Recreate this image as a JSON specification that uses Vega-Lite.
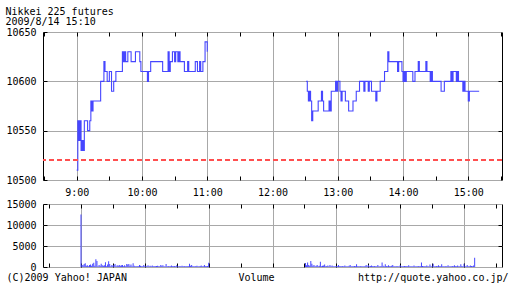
{
  "$schema": "https://vega.github.io/schema/vega-lite/v6.json",
  "autosize": {"type": "pad"},
  "padding": {"left": 5, "top": 6, "right": 0, "bottom": 0},
  "background": "white",
  "title": {"text": ["Nikkei 225 futures", "2009/8/14 15:10"], "anchor": "start", "frame": "bounds", "font": "DejaVu Sans Mono", "fontSize": 10, "fontWeight": "normal", "color": "#000", "lineHeight": 10, "offset": 0},
  "config": {
    "font": "DejaVu Sans Mono",
    "view": {"stroke": "#000", "strokeWidth": 1},
    "axis": {"labelFont": "DejaVu Sans Mono", "labelFontSize": 10, "labelColor": "#000", "domain": false, "tickColor": "#000", "tickSize": -4, "gridColor": "#a8a8a8", "gridOpacity": 1, "titleFont": "DejaVu Sans Mono", "titleFontSize": 10, "titleFontWeight": "normal", "titleColor": "#000"}
  },
  "datasets": {
    "price": [
      {"t":"2009-08-14T09:00","p":10510,"s":"am"},{"t":"2009-08-14T09:01","p":10560,"s":"am"},{"t":"2009-08-14T09:02","p":10540,"s":"am"},{"t":"2009-08-14T09:03","p":10560,"s":"am"},{"t":"2009-08-14T09:04","p":10530,"s":"am"},{"t":"2009-08-14T09:05","p":10540,"s":"am"},{"t":"2009-08-14T09:06","p":10530,"s":"am"},{"t":"2009-08-14T09:07","p":10560,"s":"am"},{"t":"2009-08-14T09:10","p":10550,"s":"am"},{"t":"2009-08-14T09:12","p":10560,"s":"am"},{"t":"2009-08-14T09:13","p":10580,"s":"am"},{"t":"2009-08-14T09:14","p":10570,"s":"am"},{"t":"2009-08-14T09:15","p":10580,"s":"am"},{"t":"2009-08-14T09:22","p":10600,"s":"am"},{"t":"2009-08-14T09:25","p":10620,"s":"am"},{"t":"2009-08-14T09:26","p":10610,"s":"am"},{"t":"2009-08-14T09:28","p":10600,"s":"am"},{"t":"2009-08-14T09:30","p":10610,"s":"am"},{"t":"2009-08-14T09:32","p":10590,"s":"am"},{"t":"2009-08-14T09:34","p":10600,"s":"am"},{"t":"2009-08-14T09:36","p":10610,"s":"am"},{"t":"2009-08-14T09:42","p":10630,"s":"am"},{"t":"2009-08-14T09:43","p":10620,"s":"am"},{"t":"2009-08-14T09:44","p":10630,"s":"am"},{"t":"2009-08-14T09:45","p":10620,"s":"am"},{"t":"2009-08-14T09:47","p":10630,"s":"am"},{"t":"2009-08-14T09:50","p":10620,"s":"am"},{"t":"2009-08-14T09:54","p":10630,"s":"am"},{"t":"2009-08-14T09:58","p":10620,"s":"am"},{"t":"2009-08-14T09:59","p":10610,"s":"am"},{"t":"2009-08-14T10:05","p":10600,"s":"am"},{"t":"2009-08-14T10:06","p":10610,"s":"am"},{"t":"2009-08-14T10:08","p":10620,"s":"am"},{"t":"2009-08-14T10:19","p":10610,"s":"am"},{"t":"2009-08-14T10:24","p":10630,"s":"am"},{"t":"2009-08-14T10:25","p":10610,"s":"am"},{"t":"2009-08-14T10:26","p":10620,"s":"am"},{"t":"2009-08-14T10:28","p":10630,"s":"am"},{"t":"2009-08-14T10:30","p":10620,"s":"am"},{"t":"2009-08-14T10:31","p":10630,"s":"am"},{"t":"2009-08-14T10:33","p":10620,"s":"am"},{"t":"2009-08-14T10:34","p":10630,"s":"am"},{"t":"2009-08-14T10:35","p":10620,"s":"am"},{"t":"2009-08-14T10:39","p":10610,"s":"am"},{"t":"2009-08-14T10:42","p":10620,"s":"am"},{"t":"2009-08-14T10:43","p":10610,"s":"am"},{"t":"2009-08-14T10:49","p":10620,"s":"am"},{"t":"2009-08-14T10:51","p":10610,"s":"am"},{"t":"2009-08-14T10:53","p":10620,"s":"am"},{"t":"2009-08-14T10:54","p":10610,"s":"am"},{"t":"2009-08-14T10:56","p":10620,"s":"am"},{"t":"2009-08-14T10:58","p":10640,"s":"am"},{"t":"2009-08-14T11:00","p":10630,"s":"am"},
      {"t":"2009-08-14T12:31","p":10600,"s":"pm"},{"t":"2009-08-14T12:32","p":10590,"s":"pm"},{"t":"2009-08-14T12:33","p":10580,"s":"pm"},{"t":"2009-08-14T12:34","p":10590,"s":"pm"},{"t":"2009-08-14T12:35","p":10580,"s":"pm"},{"t":"2009-08-14T12:36","p":10560,"s":"pm"},{"t":"2009-08-14T12:37","p":10570,"s":"pm"},{"t":"2009-08-14T12:42","p":10580,"s":"pm"},{"t":"2009-08-14T12:45","p":10590,"s":"pm"},{"t":"2009-08-14T12:46","p":10580,"s":"pm"},{"t":"2009-08-14T12:47","p":10570,"s":"pm"},{"t":"2009-08-14T12:52","p":10580,"s":"pm"},{"t":"2009-08-14T12:53","p":10570,"s":"pm"},{"t":"2009-08-14T12:54","p":10590,"s":"pm"},{"t":"2009-08-14T12:58","p":10600,"s":"pm"},{"t":"2009-08-14T12:59","p":10590,"s":"pm"},{"t":"2009-08-14T13:00","p":10600,"s":"pm"},{"t":"2009-08-14T13:02","p":10590,"s":"pm"},{"t":"2009-08-14T13:03","p":10580,"s":"pm"},{"t":"2009-08-14T13:04","p":10590,"s":"pm"},{"t":"2009-08-14T13:07","p":10580,"s":"pm"},{"t":"2009-08-14T13:10","p":10570,"s":"pm"},{"t":"2009-08-14T13:14","p":10580,"s":"pm"},{"t":"2009-08-14T13:17","p":10590,"s":"pm"},{"t":"2009-08-14T13:20","p":10600,"s":"pm"},{"t":"2009-08-14T13:24","p":10590,"s":"pm"},{"t":"2009-08-14T13:25","p":10600,"s":"pm"},{"t":"2009-08-14T13:28","p":10590,"s":"pm"},{"t":"2009-08-14T13:29","p":10600,"s":"pm"},{"t":"2009-08-14T13:31","p":10590,"s":"pm"},{"t":"2009-08-14T13:35","p":10580,"s":"pm"},{"t":"2009-08-14T13:36","p":10590,"s":"pm"},{"t":"2009-08-14T13:39","p":10600,"s":"pm"},{"t":"2009-08-14T13:43","p":10610,"s":"pm"},{"t":"2009-08-14T13:46","p":10630,"s":"pm"},{"t":"2009-08-14T13:47","p":10620,"s":"pm"},{"t":"2009-08-14T13:55","p":10610,"s":"pm"},{"t":"2009-08-14T13:56","p":10620,"s":"pm"},{"t":"2009-08-14T13:59","p":10610,"s":"pm"},{"t":"2009-08-14T14:00","p":10600,"s":"pm"},{"t":"2009-08-14T14:01","p":10610,"s":"pm"},{"t":"2009-08-14T14:02","p":10600,"s":"pm"},{"t":"2009-08-14T14:03","p":10610,"s":"pm"},{"t":"2009-08-14T14:09","p":10600,"s":"pm"},{"t":"2009-08-14T14:11","p":10610,"s":"pm"},{"t":"2009-08-14T14:14","p":10620,"s":"pm"},{"t":"2009-08-14T14:15","p":10610,"s":"pm"},{"t":"2009-08-14T14:21","p":10620,"s":"pm"},{"t":"2009-08-14T14:22","p":10610,"s":"pm"},{"t":"2009-08-14T14:25","p":10600,"s":"pm"},{"t":"2009-08-14T14:26","p":10610,"s":"pm"},{"t":"2009-08-14T14:27","p":10600,"s":"pm"},{"t":"2009-08-14T14:35","p":10590,"s":"pm"},{"t":"2009-08-14T14:38","p":10600,"s":"pm"},{"t":"2009-08-14T14:44","p":10610,"s":"pm"},{"t":"2009-08-14T14:45","p":10600,"s":"pm"},{"t":"2009-08-14T14:46","p":10610,"s":"pm"},{"t":"2009-08-14T14:49","p":10600,"s":"pm"},{"t":"2009-08-14T14:50","p":10610,"s":"pm"},{"t":"2009-08-14T14:51","p":10600,"s":"pm"},{"t":"2009-08-14T14:55","p":10590,"s":"pm"},{"t":"2009-08-14T14:56","p":10600,"s":"pm"},{"t":"2009-08-14T14:57","p":10590,"s":"pm"},{"t":"2009-08-14T15:00","p":10580,"s":"pm"},{"t":"2009-08-14T15:01","p":10590,"s":"pm"},{"t":"2009-08-14T15:10","p":10590,"s":"pm"}
    ],
    "vol": [
      {"t":"2009-08-14T09:00","v":12500},{"t":"2009-08-14T09:01","v":500},{"t":"2009-08-14T09:02","v":400},{"t":"2009-08-14T09:03","v":700},{"t":"2009-08-14T09:04","v":900},{"t":"2009-08-14T09:05","v":300},{"t":"2009-08-14T09:06","v":400},{"t":"2009-08-14T09:07","v":200},{"t":"2009-08-14T09:08","v":500},{"t":"2009-08-14T09:09","v":600},{"t":"2009-08-14T09:10","v":300},{"t":"2009-08-14T09:11","v":800},{"t":"2009-08-14T09:12","v":1000},{"t":"2009-08-14T09:13","v":300},{"t":"2009-08-14T09:14","v":1850},{"t":"2009-08-14T09:15","v":1450},{"t":"2009-08-14T09:16","v":200},{"t":"2009-08-14T09:17","v":500},{"t":"2009-08-14T09:18","v":300},{"t":"2009-08-14T09:19","v":800},{"t":"2009-08-14T09:20","v":400},{"t":"2009-08-14T09:21","v":300},{"t":"2009-08-14T09:22","v":400},{"t":"2009-08-14T09:23","v":1150},{"t":"2009-08-14T09:24","v":200},{"t":"2009-08-14T09:25","v":600},{"t":"2009-08-14T09:26","v":1350},{"t":"2009-08-14T09:27","v":700},{"t":"2009-08-14T09:28","v":200},{"t":"2009-08-14T09:29","v":500},{"t":"2009-08-14T09:30","v":300},{"t":"2009-08-14T09:31","v":450},{"t":"2009-08-14T09:32","v":700},{"t":"2009-08-14T09:33","v":200},{"t":"2009-08-14T09:34","v":400},{"t":"2009-08-14T09:35","v":300},{"t":"2009-08-14T09:36","v":500},{"t":"2009-08-14T09:37","v":300},{"t":"2009-08-14T09:38","v":400},{"t":"2009-08-14T09:39","v":500},{"t":"2009-08-14T09:40","v":200},{"t":"2009-08-14T09:41","v":400},{"t":"2009-08-14T09:42","v":200},{"t":"2009-08-14T09:43","v":700},{"t":"2009-08-14T09:44","v":600},{"t":"2009-08-14T09:45","v":700},{"t":"2009-08-14T09:46","v":300},{"t":"2009-08-14T09:47","v":600},{"t":"2009-08-14T09:48","v":200},{"t":"2009-08-14T09:49","v":900},{"t":"2009-08-14T09:50","v":300},{"t":"2009-08-14T09:51","v":200},{"t":"2009-08-14T09:52","v":150},{"t":"2009-08-14T09:53","v":150},{"t":"2009-08-14T09:54","v":200},{"t":"2009-08-14T09:55","v":500},{"t":"2009-08-14T09:56","v":300},{"t":"2009-08-14T09:57","v":150},{"t":"2009-08-14T09:58","v":200},{"t":"2009-08-14T09:59","v":450},
      {"t":"2009-08-14T10:00","v":150},{"t":"2009-08-14T10:01","v":300},{"t":"2009-08-14T10:02","v":200},{"t":"2009-08-14T10:03","v":400},{"t":"2009-08-14T10:04","v":150},{"t":"2009-08-14T10:05","v":300},{"t":"2009-08-14T10:06","v":150},{"t":"2009-08-14T10:07","v":350},{"t":"2009-08-14T10:08","v":150},{"t":"2009-08-14T10:09","v":200},{"t":"2009-08-14T10:10","v":150},{"t":"2009-08-14T10:11","v":250},{"t":"2009-08-14T10:12","v":300},{"t":"2009-08-14T10:13","v":150},{"t":"2009-08-14T10:14","v":200},{"t":"2009-08-14T10:15","v":450},{"t":"2009-08-14T10:16","v":300},{"t":"2009-08-14T10:17","v":400},{"t":"2009-08-14T10:18","v":150},{"t":"2009-08-14T10:19","v":200},{"t":"2009-08-14T10:20","v":700},{"t":"2009-08-14T10:21","v":200},{"t":"2009-08-14T10:22","v":250},{"t":"2009-08-14T10:23","v":150},{"t":"2009-08-14T10:24","v":200},{"t":"2009-08-14T10:25","v":350},{"t":"2009-08-14T10:26","v":150},{"t":"2009-08-14T10:27","v":200},{"t":"2009-08-14T10:28","v":250},{"t":"2009-08-14T10:29","v":150},{"t":"2009-08-14T10:30","v":400},{"t":"2009-08-14T10:31","v":150},{"t":"2009-08-14T10:32","v":200},{"t":"2009-08-14T10:33","v":250},{"t":"2009-08-14T10:34","v":150},{"t":"2009-08-14T10:35","v":300},{"t":"2009-08-14T10:36","v":150},{"t":"2009-08-14T10:37","v":250},{"t":"2009-08-14T10:38","v":150},{"t":"2009-08-14T10:39","v":200},{"t":"2009-08-14T10:40","v":150},{"t":"2009-08-14T10:41","v":200},{"t":"2009-08-14T10:42","v":800},{"t":"2009-08-14T10:43","v":300},{"t":"2009-08-14T10:44","v":500},{"t":"2009-08-14T10:45","v":150},{"t":"2009-08-14T10:46","v":200},{"t":"2009-08-14T10:47","v":150},{"t":"2009-08-14T10:48","v":250},{"t":"2009-08-14T10:49","v":300},{"t":"2009-08-14T10:50","v":150},{"t":"2009-08-14T10:51","v":200},{"t":"2009-08-14T10:52","v":250},{"t":"2009-08-14T10:53","v":350},{"t":"2009-08-14T10:54","v":150},{"t":"2009-08-14T10:55","v":200},{"t":"2009-08-14T10:56","v":500},{"t":"2009-08-14T10:57","v":150},{"t":"2009-08-14T10:58","v":200},{"t":"2009-08-14T10:59","v":250},{"t":"2009-08-14T11:00","v":1000},
      {"t":"2009-08-14T12:31","v":950},{"t":"2009-08-14T12:32","v":400},{"t":"2009-08-14T12:33","v":1100},{"t":"2009-08-14T12:34","v":500},{"t":"2009-08-14T12:35","v":300},{"t":"2009-08-14T12:36","v":1430},{"t":"2009-08-14T12:37","v":800},{"t":"2009-08-14T12:38","v":300},{"t":"2009-08-14T12:39","v":480},{"t":"2009-08-14T12:40","v":200},{"t":"2009-08-14T12:41","v":300},{"t":"2009-08-14T12:42","v":480},{"t":"2009-08-14T12:43","v":200},{"t":"2009-08-14T12:44","v":300},{"t":"2009-08-14T12:45","v":1270},{"t":"2009-08-14T12:46","v":200},{"t":"2009-08-14T12:47","v":300},{"t":"2009-08-14T12:48","v":350},{"t":"2009-08-14T12:49","v":600},{"t":"2009-08-14T12:50","v":200},{"t":"2009-08-14T12:51","v":250},{"t":"2009-08-14T12:52","v":350},{"t":"2009-08-14T12:53","v":200},{"t":"2009-08-14T12:54","v":450},{"t":"2009-08-14T12:55","v":200},{"t":"2009-08-14T12:56","v":350},{"t":"2009-08-14T12:57","v":150},{"t":"2009-08-14T12:58","v":200},{"t":"2009-08-14T12:59","v":150},
      {"t":"2009-08-14T13:00","v":250},{"t":"2009-08-14T13:01","v":150},{"t":"2009-08-14T13:02","v":450},{"t":"2009-08-14T13:03","v":150},{"t":"2009-08-14T13:04","v":200},{"t":"2009-08-14T13:05","v":150},{"t":"2009-08-14T13:06","v":250},{"t":"2009-08-14T13:07","v":150},{"t":"2009-08-14T13:08","v":350},{"t":"2009-08-14T13:09","v":200},{"t":"2009-08-14T13:10","v":150},{"t":"2009-08-14T13:11","v":200},{"t":"2009-08-14T13:12","v":300},{"t":"2009-08-14T13:13","v":450},{"t":"2009-08-14T13:14","v":150},{"t":"2009-08-14T13:15","v":200},{"t":"2009-08-14T13:16","v":150},{"t":"2009-08-14T13:17","v":250},{"t":"2009-08-14T13:18","v":200},{"t":"2009-08-14T13:19","v":650},{"t":"2009-08-14T13:20","v":150},{"t":"2009-08-14T13:21","v":200},{"t":"2009-08-14T13:22","v":150},{"t":"2009-08-14T13:23","v":250},{"t":"2009-08-14T13:24","v":150},{"t":"2009-08-14T13:25","v":200},{"t":"2009-08-14T13:26","v":150},{"t":"2009-08-14T13:27","v":250},{"t":"2009-08-14T13:28","v":450},{"t":"2009-08-14T13:29","v":200},{"t":"2009-08-14T13:30","v":450},{"t":"2009-08-14T13:31","v":150},{"t":"2009-08-14T13:32","v":250},{"t":"2009-08-14T13:33","v":350},{"t":"2009-08-14T13:34","v":200},{"t":"2009-08-14T13:35","v":150},{"t":"2009-08-14T13:36","v":250},{"t":"2009-08-14T13:37","v":150},{"t":"2009-08-14T13:38","v":200},{"t":"2009-08-14T13:39","v":450},{"t":"2009-08-14T13:40","v":150},{"t":"2009-08-14T13:41","v":200},{"t":"2009-08-14T13:42","v":250},{"t":"2009-08-14T13:43","v":1100},{"t":"2009-08-14T13:44","v":300},{"t":"2009-08-14T13:45","v":200},{"t":"2009-08-14T13:46","v":650},{"t":"2009-08-14T13:47","v":250},{"t":"2009-08-14T13:48","v":200},{"t":"2009-08-14T13:49","v":400},{"t":"2009-08-14T13:50","v":150},{"t":"2009-08-14T13:51","v":200},{"t":"2009-08-14T13:52","v":300},{"t":"2009-08-14T13:53","v":450},{"t":"2009-08-14T13:54","v":150},{"t":"2009-08-14T13:55","v":200},{"t":"2009-08-14T13:56","v":150},{"t":"2009-08-14T13:57","v":250},{"t":"2009-08-14T13:58","v":150},{"t":"2009-08-14T13:59","v":200},
      {"t":"2009-08-14T14:00","v":400},{"t":"2009-08-14T14:01","v":150},{"t":"2009-08-14T14:02","v":200},{"t":"2009-08-14T14:03","v":150},{"t":"2009-08-14T14:04","v":250},{"t":"2009-08-14T14:05","v":150},{"t":"2009-08-14T14:06","v":200},{"t":"2009-08-14T14:07","v":150},{"t":"2009-08-14T14:08","v":400},{"t":"2009-08-14T14:09","v":150},{"t":"2009-08-14T14:10","v":200},{"t":"2009-08-14T14:11","v":150},{"t":"2009-08-14T14:12","v":200},{"t":"2009-08-14T14:13","v":350},{"t":"2009-08-14T14:14","v":150},{"t":"2009-08-14T14:15","v":200},{"t":"2009-08-14T14:16","v":150},{"t":"2009-08-14T14:17","v":250},{"t":"2009-08-14T14:18","v":150},{"t":"2009-08-14T14:19","v":200},{"t":"2009-08-14T14:20","v":1100},{"t":"2009-08-14T14:21","v":250},{"t":"2009-08-14T14:22","v":200},{"t":"2009-08-14T14:23","v":150},{"t":"2009-08-14T14:24","v":200},{"t":"2009-08-14T14:25","v":350},{"t":"2009-08-14T14:26","v":150},{"t":"2009-08-14T14:27","v":200},{"t":"2009-08-14T14:28","v":600},{"t":"2009-08-14T14:29","v":200},{"t":"2009-08-14T14:30","v":150},{"t":"2009-08-14T14:31","v":800},{"t":"2009-08-14T14:32","v":200},{"t":"2009-08-14T14:33","v":150},{"t":"2009-08-14T14:34","v":250},{"t":"2009-08-14T14:35","v":200},{"t":"2009-08-14T14:36","v":400},{"t":"2009-08-14T14:37","v":150},{"t":"2009-08-14T14:38","v":200},{"t":"2009-08-14T14:39","v":650},{"t":"2009-08-14T14:40","v":150},{"t":"2009-08-14T14:41","v":200},{"t":"2009-08-14T14:42","v":150},{"t":"2009-08-14T14:43","v":250},{"t":"2009-08-14T14:44","v":200},{"t":"2009-08-14T14:45","v":400},{"t":"2009-08-14T14:46","v":150},{"t":"2009-08-14T14:47","v":200},{"t":"2009-08-14T14:48","v":150},{"t":"2009-08-14T14:49","v":250},{"t":"2009-08-14T14:50","v":200},{"t":"2009-08-14T14:51","v":400},{"t":"2009-08-14T14:52","v":150},{"t":"2009-08-14T14:53","v":200},{"t":"2009-08-14T14:54","v":350},{"t":"2009-08-14T14:55","v":150},{"t":"2009-08-14T14:56","v":200},{"t":"2009-08-14T14:57","v":650},{"t":"2009-08-14T14:58","v":250},{"t":"2009-08-14T14:59","v":200},
      {"t":"2009-08-14T15:00","v":800},{"t":"2009-08-14T15:01","v":200},{"t":"2009-08-14T15:02","v":150},{"t":"2009-08-14T15:03","v":450},{"t":"2009-08-14T15:04","v":200},{"t":"2009-08-14T15:05","v":150},{"t":"2009-08-14T15:06","v":350},{"t":"2009-08-14T15:07","v":250},{"t":"2009-08-14T15:08","v":200},{"t":"2009-08-14T15:09","v":350},{"t":"2009-08-14T15:10","v":2200}
    ]
  },
  "spacing": 24,
  "bounds": "flush",
  "vconcat": [
    {
      "width": 459,
      "height": 148,
      "data": {"name": "price"},
      "layer": [
        {
          "mark": {"type": "line", "interpolate": "step-after", "color": "#4646ff", "strokeWidth": 1.1},
          "encoding": {
            "x": {"field": "t", "type": "temporal",
                  "scale": {"domain": [{"year": 2009, "month": 8, "date": 14, "hours": 8, "minutes": 29}, {"year": 2009, "month": 8, "date": 14, "hours": 15, "minutes": 31}]},
                  "axis": {"orient": "bottom", "values": [{"year":2009,"month":8,"date":14,"hours":8,"minutes":30},{"year":2009,"month":8,"date":14,"hours":9,"minutes":0},{"year":2009,"month":8,"date":14,"hours":9,"minutes":30},{"year":2009,"month":8,"date":14,"hours":10,"minutes":0},{"year":2009,"month":8,"date":14,"hours":10,"minutes":30},{"year":2009,"month":8,"date":14,"hours":11,"minutes":0},{"year":2009,"month":8,"date":14,"hours":11,"minutes":30},{"year":2009,"month":8,"date":14,"hours":12,"minutes":0},{"year":2009,"month":8,"date":14,"hours":12,"minutes":30},{"year":2009,"month":8,"date":14,"hours":13,"minutes":0},{"year":2009,"month":8,"date":14,"hours":13,"minutes":30},{"year":2009,"month":8,"date":14,"hours":14,"minutes":0},{"year":2009,"month":8,"date":14,"hours":14,"minutes":30},{"year":2009,"month":8,"date":14,"hours":15,"minutes":0},{"year":2009,"month":8,"date":14,"hours":15,"minutes":30}],
                           "format": "%-H:%M", "labelExpr": "minutes(datum.value) == 0 ? datum.label : ''", "labelOverlap": false, "labelFlush": false, "labelPadding": 11, "grid": true, "gridOpacity": {"condition": {"test": "minutes(datum.value) != 0", "value": 0}, "value": 1}, "title": null}},
            "y": {"field": "p", "type": "quantitative",
                  "scale": {"domain": [10500, 10650], "zero": false, "nice": false},
                  "axis": {"orient": "left", "values": [10500, 10550, 10600, 10650], "format": "d", "labelPadding": 11, "grid": true, "title": null}},
            "detail": {"field": "s"}
          }
        },
        {
          "mark": {"type": "rule", "color": "#ff5050", "strokeDash": [5, 3], "strokeWidth": 1},
          "encoding": {"y": {"datum": 10520, "type": "quantitative", "axis": null}}
        },
        {
          "mark": {"type": "line", "opacity": 0},
          "encoding": {
            "x": {"field": "t", "type": "temporal", "axis": {"orient": "top", "values": [{"year":2009,"month":8,"date":14,"hours":8,"minutes":30},{"year":2009,"month":8,"date":14,"hours":9,"minutes":0},{"year":2009,"month":8,"date":14,"hours":9,"minutes":30},{"year":2009,"month":8,"date":14,"hours":10,"minutes":0},{"year":2009,"month":8,"date":14,"hours":10,"minutes":30},{"year":2009,"month":8,"date":14,"hours":11,"minutes":0},{"year":2009,"month":8,"date":14,"hours":11,"minutes":30},{"year":2009,"month":8,"date":14,"hours":12,"minutes":0},{"year":2009,"month":8,"date":14,"hours":12,"minutes":30},{"year":2009,"month":8,"date":14,"hours":13,"minutes":0},{"year":2009,"month":8,"date":14,"hours":13,"minutes":30},{"year":2009,"month":8,"date":14,"hours":14,"minutes":0},{"year":2009,"month":8,"date":14,"hours":14,"minutes":30},{"year":2009,"month":8,"date":14,"hours":15,"minutes":0},{"year":2009,"month":8,"date":14,"hours":15,"minutes":30}], "labels": false, "grid": false, "title": null}},
            "y": {"field": "p", "type": "quantitative", "axis": {"orient": "right", "values": [10550, 10600], "labels": false, "grid": false, "title": null}},
            "detail": {"field": "s"}
          }
        }
      ],
      "resolve": {"axis": {"x": "independent", "y": "independent"}}
    },
    {
      "width": 459,
      "height": 63,
      "data": {"name": "vol"},
      "layer": [
        {
          "mark": {"type": "bar", "size": 1, "color": "#4646ff"},
          "encoding": {
            "x": {"field": "t", "type": "temporal",
                  "scale": {"domain": [{"year": 2009, "month": 8, "date": 14, "hours": 8, "minutes": 29}, {"year": 2009, "month": 8, "date": 14, "hours": 15, "minutes": 31}]},
                  "axis": {"orient": "bottom", "values": [{"year":2009,"month":8,"date":14,"hours":8,"minutes":30},{"year":2009,"month":8,"date":14,"hours":9,"minutes":0},{"year":2009,"month":8,"date":14,"hours":9,"minutes":30},{"year":2009,"month":8,"date":14,"hours":10,"minutes":0},{"year":2009,"month":8,"date":14,"hours":10,"minutes":30},{"year":2009,"month":8,"date":14,"hours":11,"minutes":0},{"year":2009,"month":8,"date":14,"hours":11,"minutes":30},{"year":2009,"month":8,"date":14,"hours":12,"minutes":0},{"year":2009,"month":8,"date":14,"hours":12,"minutes":30},{"year":2009,"month":8,"date":14,"hours":13,"minutes":0},{"year":2009,"month":8,"date":14,"hours":13,"minutes":30},{"year":2009,"month":8,"date":14,"hours":14,"minutes":0},{"year":2009,"month":8,"date":14,"hours":14,"minutes":30},{"year":2009,"month":8,"date":14,"hours":15,"minutes":0},{"year":2009,"month":8,"date":14,"hours":15,"minutes":30}],
                           "labels": false, "grid": true, "gridOpacity": {"condition": {"test": "minutes(datum.value) != 0", "value": 0}, "value": 1}, "title": "(C)2009 Yahoo! JAPAN", "titleAnchor": "start", "titleAlign": "left", "titleX": -37, "titleY": 13, "titleBaseline": "alphabetic"}},
            "y": {"field": "v", "type": "quantitative",
                  "scale": {"domain": [0, 15000], "nice": false},
                  "axis": {"orient": "left", "values": [0, 5000, 10000, 15000], "format": "d", "labelPadding": 11, "grid": true, "title": "Volume", "titleAngle": 0, "titleAlign": "center", "titleX": 213, "titleY": 76, "titleBaseline": "alphabetic"}}
          }
        },
        {
          "mark": {"type": "bar", "size": 1, "opacity": 0},
          "encoding": {
            "x": {"field": "t", "type": "temporal", "axis": {"orient": "top", "values": [{"year":2009,"month":8,"date":14,"hours":8,"minutes":30},{"year":2009,"month":8,"date":14,"hours":9,"minutes":0},{"year":2009,"month":8,"date":14,"hours":9,"minutes":30},{"year":2009,"month":8,"date":14,"hours":10,"minutes":0},{"year":2009,"month":8,"date":14,"hours":10,"minutes":30},{"year":2009,"month":8,"date":14,"hours":11,"minutes":0},{"year":2009,"month":8,"date":14,"hours":11,"minutes":30},{"year":2009,"month":8,"date":14,"hours":12,"minutes":0},{"year":2009,"month":8,"date":14,"hours":12,"minutes":30},{"year":2009,"month":8,"date":14,"hours":13,"minutes":0},{"year":2009,"month":8,"date":14,"hours":13,"minutes":30},{"year":2009,"month":8,"date":14,"hours":14,"minutes":0},{"year":2009,"month":8,"date":14,"hours":14,"minutes":30},{"year":2009,"month":8,"date":14,"hours":15,"minutes":0},{"year":2009,"month":8,"date":14,"hours":15,"minutes":30}], "labels": false, "grid": false, "title": null}},
            "y": {"field": "v", "type": "quantitative", "axis": {"orient": "right", "values": [5000, 10000], "labels": false, "grid": false, "title": "http://quote.yahoo.co.jp/", "titleAngle": 0, "titleAlign": "right", "titleX": 6, "titleY": 76, "titleBaseline": "alphabetic"}}
          }
        }
      ],
      "resolve": {"axis": {"x": "independent", "y": "independent"}}
    }
  ]
}
